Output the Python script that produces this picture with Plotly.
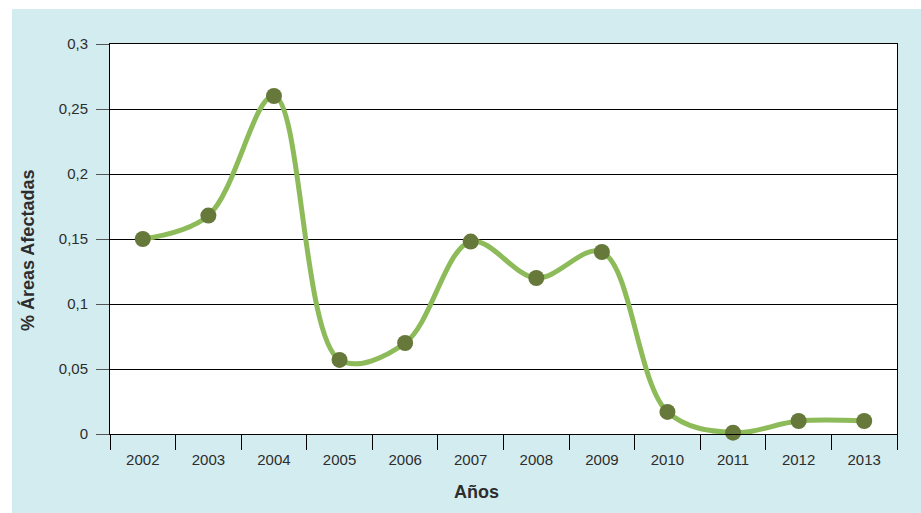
import plotly.graph_objects as go

years = ["2002", "2003", "2004", "2005", "2006", "2007", "2008", "2009", "2010", "2011", "2012", "2013"]
values = [0.150, 0.168, 0.260, 0.057, 0.070, 0.148, 0.120, 0.140, 0.017, 0.001, 0.010, 0.010]
y_ticks = [0, 0.05, 0.1, 0.15, 0.2, 0.25, 0.3]
y_ticktext = ["0", "0,05", "0,1", "0,15", "0,2", "0,25", "0,3"]

BG = "#d3ecf0"
FONT = "Liberation Sans, Arial, sans-serif"
TXT = "#2d2d2d"

fig = go.Figure()
fig.add_trace(go.Scatter(
    x=years, y=values, mode="lines+markers",
    line=dict(color="#8dbb5a", width=5, shape="spline", smoothing=1),
    marker=dict(color="#66783a", size=16),
    showlegend=False, cliponaxis=False,
))

W, H = 921, 513
L, R, T, B = 110, 24, 44, 79
pw, ph = W - L - R, H - T - B

def px(x):
    return (x - L) / pw

def py(y):
    return (H - B - y) / ph

fig.update_layout(
    width=W, height=H,
    margin=dict(l=L, r=R, t=T, b=B),
    paper_bgcolor=BG, plot_bgcolor="white",
    font=dict(family=FONT, size=15, color=TXT),
    shapes=[
        dict(type="rect", xref="paper", yref="paper", x0=px(-5), x1=px(12), y0=py(H + 5), y1=py(-5),
             fillcolor="white", line=dict(width=0), layer="below"),
        dict(type="rect", xref="paper", yref="paper", x0=px(-5), x1=px(W + 5), y0=py(9), y1=py(-5),
             fillcolor="white", line=dict(width=0), layer="below"),
    ],
    annotations=[
        dict(text="<b>Años</b>", xref="paper", yref="paper", x=px(476), y=py(492),
             xanchor="center", yanchor="middle", showarrow=False,
             font=dict(size=18, color=TXT)),
        dict(text="<b>% Áreas Afectadas</b>", xref="paper", yref="paper", x=px(27), y=py(251),
             xanchor="center", yanchor="middle", showarrow=False, textangle=-90,
             font=dict(size=18, color=TXT)),
    ],
    xaxis=dict(
        type="category", tickson="boundaries", ticks="outside", ticklen=15,
        tickcolor="black", tickwidth=1, showgrid=False,
        showline=True, linecolor="black", linewidth=1, mirror=True,
        range=[-0.5, 11.5], ticklabelstandoff=12,
        tickfont=dict(size=15, color=TXT),
    ),
    yaxis=dict(
        range=[0, 0.3], tickvals=y_ticks, ticktext=y_ticktext,
        ticks="outside", ticklen=13, tickcolor="#555555", tickwidth=1,
        showgrid=True, gridcolor="black", gridwidth=1,
        showline=True, linecolor="black", linewidth=1, mirror=True,
        zeroline=False, ticklabelstandoff=5,
        tickfont=dict(size=15, color=TXT),
    ),
)

fig.write_html("out.html", config={"displayModeBar": False},
               post_script="document.body.style.margin='0px';")
